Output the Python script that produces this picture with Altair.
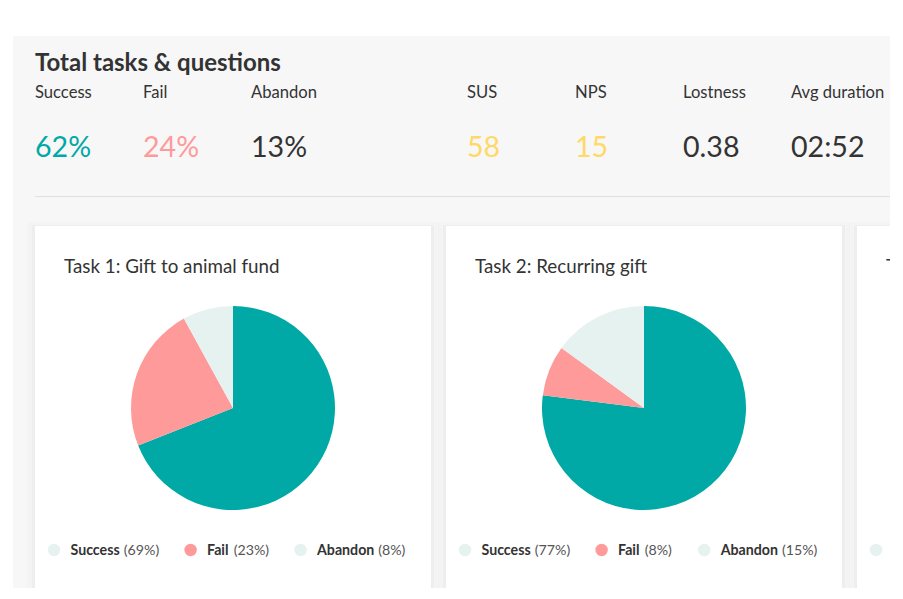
import altair as alt
import pandas as pd

# ---------------- data ----------------
metric_names = ["Success", "Fail", "Abandon", "SUS", "NPS", "Lostness", "Avg duration"]
metric_values = ["62%", "24%", "13%", "58", "15", "0.38", "02:52"]
metric_colors = ["#00a9a5", "#ff9a9a", "#333333", "#ffd966", "#ffd966", "#333333", "#333333"]
header_slots = ["Success", "Fail", "Abandon", " ", "SUS", "NPS", "Lostness", "Avg duration"]

task_titles = ["Task 1: Gift to animal fund", "Task 2: Recurring gift", "Task 3"]
outcomes = ["Success", "Fail", "Abandon"]
task1_pct = [69, 23, 8]
task2_pct = [77, 8, 15]
outcome_colors = ["#00a9a5", "#ff9a9a", "#e6f2f0"]
legend_dot_colors = ["#e6f2f0", "#ff9a9a", "#e6f2f0"]

# ---------------- layout ----------------
W, H = 877, 552
FONT = "Lato"
DARK = "#333333"
one = pd.DataFrame({"k": [0]})

def vrect(x1, x2, y1, y2, color, opacity=1.0, clip=False):
    return alt.Chart(one).mark_rect(color=color, opacity=opacity, clip=clip).encode(
        x=alt.value(x1), x2=alt.value(x2), y=alt.value(y1), y2=alt.value(y2))

def vtext(txt, x, y, size, weight="normal", color=DARK, clip=False):
    return alt.Chart(one).mark_text(
        text=txt, font=FONT, fontSize=size, fontWeight=weight, color=color,
        align="left", baseline="alphabetic", clip=clip,
    ).encode(x=alt.value(x), y=alt.value(y))

layers = []

# cards (with soft shadow)
card_x = [22, 433, 844]
card_w = 396
card_top, card_bot = 190, 553
for cx in card_x:
    right = min(cx + card_w, W)
    layers.append(vrect(cx - 8, right + 8, card_top - 4, card_bot + 6, "#000000", 0.012, clip=True))
    layers.append(vrect(cx - 3, right + 3, card_top - 1, card_bot + 2, "#000000", 0.025, clip=True))
    layers.append(vrect(cx, right, card_top, card_bot, "#ffffff", clip=True))

# header
layers.append(vtext("Total tasks & questions", 22, 35, 24, "bold"))

metrics = pd.DataFrame({"name": metric_names, "value": metric_values, "color": metric_colors})
xscale = alt.Scale(type="point", domain=header_slots, range=[22, 22 + 108 * 7], padding=0)
layers.append(
    alt.Chart(metrics).mark_text(font=FONT, fontSize=16.6, color=DARK, align="left", baseline="alphabetic")
    .encode(x=alt.X("name:N", scale=xscale, axis=None), y=alt.value(62.3), text="name:N")
)
layers.append(
    alt.Chart(metrics).mark_text(font=FONT, fontSize=28.6, align="left", baseline="alphabetic")
    .encode(x=alt.X("name:N", scale=xscale, axis=None), y=alt.value(120.7), text="value:N",
            fill=alt.Fill("color:N", scale=None))
)
layers.append(
    alt.Chart(one).mark_rule(color="#e0e0e0", strokeWidth=1)
    .encode(x=alt.value(22), x2=alt.value(W), y=alt.value(160.5))
)

# card titles
for i, t in enumerate(task_titles):
    layers.append(vtext(t, card_x[i] + 29, 237.3, 18.8, clip=True))

# pies
color_scale = alt.Scale(domain=outcomes, range=outcome_colors)
for i, pcts in enumerate([task1_pct, task2_pct]):
    df = pd.DataFrame({"outcome": outcomes, "pct": pcts, "idx": [0, 1, 2]})
    layers.append(
        alt.Chart(df).mark_arc(outerRadius=102)
        .encode(theta=alt.Theta("pct:Q", stack=True),
                color=alt.Color("outcome:N", scale=color_scale, legend=None),
                order=alt.Order("idx:Q"),
                x=alt.value(card_x[i] + 198), y=alt.value(372))
    )

# legends (circle, bold label, percentage) laid out in a row
bold_w = {"Success": 53.3, "Fail": 26.6, "Abandon": 61.2}
LEG_Y = 514
for i, pcts in enumerate([task1_pct, task2_pct, [None, None, None]]):
    cxp = card_x[i] + 19
    for j, name in enumerate(outcomes):
        clip = i == 2
        layers.append(
            alt.Chart(one).mark_circle(size=154, opacity=1, color=legend_dot_colors[j], clip=clip)
            .encode(x=alt.value(cxp), y=alt.value(LEG_Y))
        )
        if pcts[j] is None:
            break
        tx = cxp + 16.5
        layers.append(vtext(name, tx, LEG_Y + 5.2, 14.2, "bold", DARK, clip=clip))
        ptxt = f"({pcts[j]}%)"
        layers.append(vtext(ptxt, tx + bold_w[name], LEG_Y + 5.2, 14.2, "normal", "#555555", clip=clip))
        pw = 7.3 * len(str(pcts[j])) + 20.4
        cxp = tx + bold_w[name] + pw + 31.8

chart = (
    alt.layer(*layers)
    .properties(width=W, height=H, autosize="none",
                padding={"left": 5, "top": 28, "right": 0, "bottom": 0},
                background="#ffffff")
    .configure_view(fill="#f7f7f7", strokeWidth=0)
)

chart.save("out.html", embed_options={"renderer": "svg", "actions": False})
